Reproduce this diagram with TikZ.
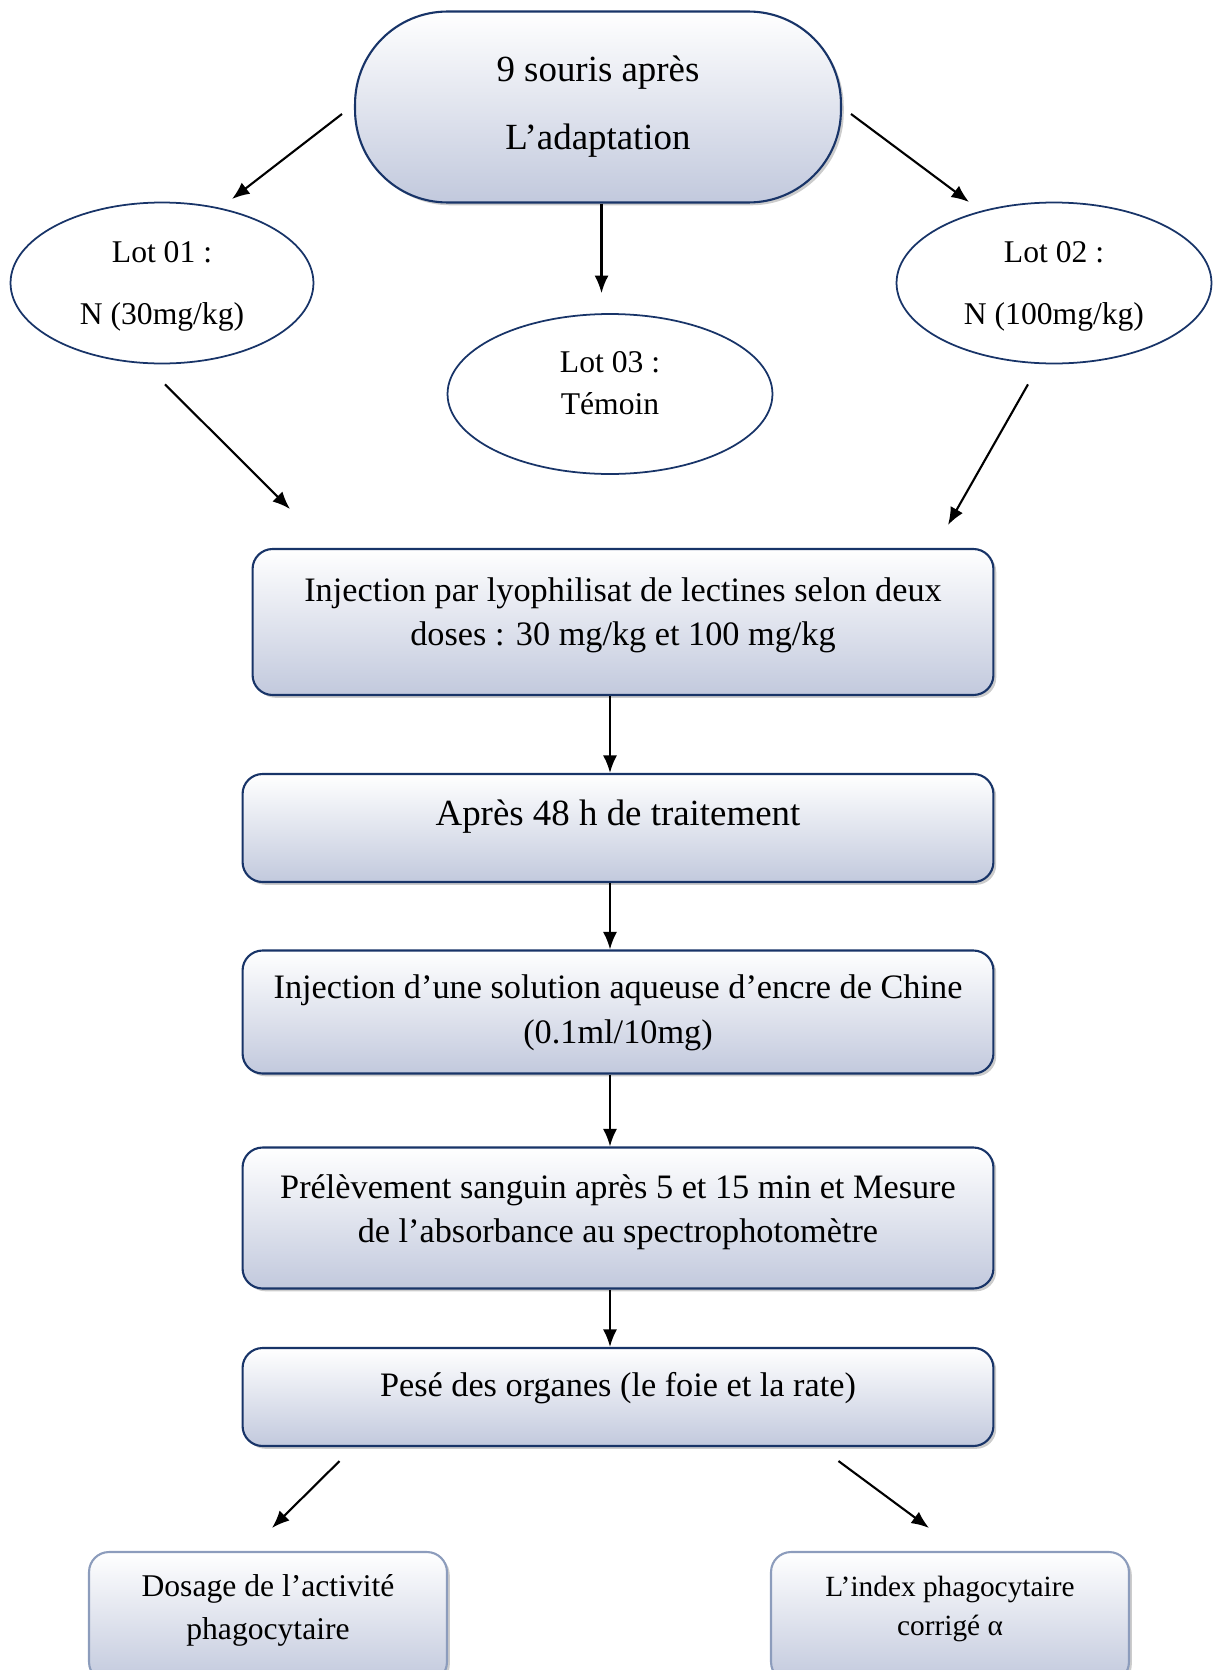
\documentclass[tikz,border=0pt]{standalone}
\usepackage{fontspec}
\setmainfont{Liberation Serif}
\usetikzlibrary{calc,shapes.geometric,shadows,arrows.meta}

\definecolor{boxline}{RGB}{24,52,104}
\definecolor{boxfill}{RGB}{194,201,221}
\definecolor{paleline}{RGB}{140,156,188}

\begin{document}
\begin{tikzpicture}[x=0.02cm, y=-0.02cm,
  pill/.style={draw=boxline, line width=1.2pt, rounded corners=1.85cm,
    top color=white, bottom color=boxfill,
    drop shadow={shadow xshift=1.6pt, shadow yshift=-1.6pt, fill=black!40},
    align=center, inner sep=0pt, font=\fontsize{21}{38.6}\selectfont},
  lot/.style={ellipse, draw=boxline, line width=1pt, fill=white,
    align=center, inner sep=0pt, font=\fontsize{18}{35.7}\selectfont},
  stage/.style={draw=boxline, line width=1.2pt, rounded corners=0.4cm,
    top color=white, bottom color=boxfill,
    drop shadow={shadow xshift=1.6pt, shadow yshift=-1.6pt, fill=black!40},
    align=center, inner sep=0pt, minimum width=15.02cm, text depth=0.45cm,
    font=\fontsize{19.5}{25.4}\selectfont},
  result/.style={stage, draw=paleline, minimum width=7.16cm, minimum height=2.6cm,
    text depth=0.4cm, font=\fontsize{18}{24}\selectfont},
  arr/.style={-{Latex[length=10pt,width=8pt]}, line width=1.2pt}]

% Page frame
\clip (0,0) rectangle (1214,1670);

% Start and the three lots
\node[pill, minimum width=9.72cm, minimum height=3.82cm] (top) at (598,107)
  {9 souris après\\L’adaptation};
\node[lot, minimum width=6.06cm, minimum height=3.22cm, text depth=0pt] (lot1) at (162,283)
  {Lot 01 :\\N (30mg/kg)};
\node[lot, minimum width=6.3cm, minimum height=3.22cm, text depth=0pt] (lot2) at (1054,283)
  {Lot 02 :\\N (100mg/kg)};
\node[lot, minimum width=6.5cm, minimum height=3.2cm, text depth=0.45cm,
  font=\fontsize{18}{24}\selectfont] (lot3) at (610,394) {Lot 03 :\\Témoin};

% Protocol steps
\node[stage, minimum width=14.82cm, minimum height=2.92cm, text depth=0.42cm] (box1) at (623,622)
  {Injection par lyophilisat de lectines selon deux\\doses : 30 mg/kg et 100 mg/kg};
\node[stage, minimum height=2.16cm, text depth=0.62cm,
  font=\fontsize{21}{26}\selectfont] (box2) at (618,828)
  {Après 48 h de traitement};
\node[stage, minimum height=2.46cm, text depth=0.12cm] (box3) at (618,1012)
  {Injection d’une solution aqueuse d’encre de Chine\\(0.1ml/10mg)};
\node[stage, minimum height=2.82cm, text depth=0.38cm] (box4) at (618,1218)
  {Prélèvement sanguin après 5 et 15 min et Mesure\\de l’absorbance au spectrophotomètre};
\node[stage, minimum height=1.96cm, text depth=0.5cm] (box5) at (618,1397)
  {Pesé des organes (le foie et la rate)};

% Results
\node[result] (box6) at (268,1617) {Dosage de l’activité\\phagocytaire};
\node[result, text depth=0.45cm, font=\fontsize{16.7}{22.4}\selectfont] (box7) at (950,1617)
  {L’index phagocytaire\\corrigé α};

% Free arrow ends
\coordinate (spine) at (610,0);
\coordinate (a1) at (232,199);
\coordinate (a2) at (969,202);
\coordinate (b1) at (290,509);
\coordinate (b2) at (948,525);

% Arrows from the start
\draw[arr] ([shift={(-12,7)}]top.west) -- (a1);
\draw[arr] ([shift={(9,7)}]top.east) -- (a2);
\draw[arr, shorten >=0.4cm] ([xshift=2]top.south) -- ([xshift=2]top.south |- lot3.north);

% Arrows from the lots
\draw[arr] ([shift={(3,20)}]lot1.south) -- (b1);
\draw[arr] ([shift={(-26,20)}]lot2.south) -- (b2);

% Arrows down the steps
\draw[arr] (box1.south -| spine) -- (box2.north -| spine);
\draw[arr] (box2.south -| spine) -- (box3.north -| spine);
\draw[arr] (box3.south -| spine) -- (box4.north -| spine);
\draw[arr] (box4.south -| spine) -- (box5.north -| spine);

% Arrows to the results
\draw[arr] ([shift={(98,14)}]box5.south west) -- ([shift={(4,-23)}]box6.north);
\draw[arr] ([shift={(-156,14)}]box5.south east) -- ([shift={(-21,-23)}]box7.north);

\end{tikzpicture}
\end{document}
